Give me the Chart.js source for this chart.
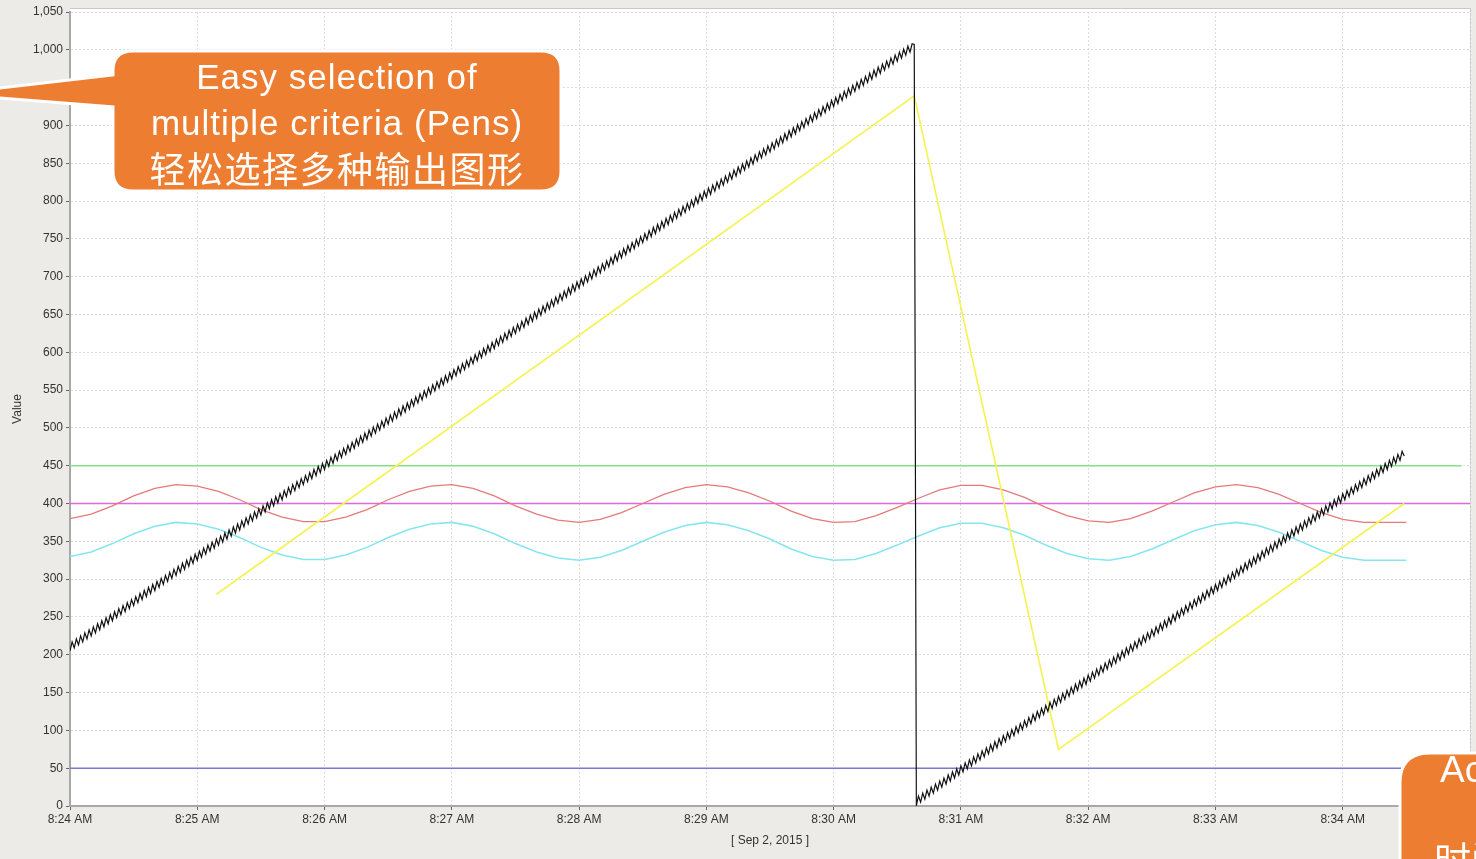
<!DOCTYPE html>
<html>
<head>
<meta charset="utf-8">
<script src="https://cdn.jsdelivr.net/npm/chart.js@4"></script>
<style>
  html, body { margin: 0; padding: 0; background: #ecebe7; overflow: hidden; }
  #wrap { position: relative; width: 1476px; height: 859px; overflow: hidden; }
  canvas { position: absolute; left: 0; top: 0; }
  svg { position: absolute; left: 0; top: 0; pointer-events: none; }
  .note { position: absolute; color: #fff; white-space: nowrap; font-family: 'Liberation Sans', Arial, sans-serif; }
  .cjk { font-family: 'Noto Sans CJK SC', sans-serif; }
</style>
</head>
<body>
<div id="wrap">
  <canvas id="trendChart" width="1476" height="859"></canvas>
  <svg width="1476" height="859">
    <path d="M133,51 H541 Q561,51 561,71 V171 Q561,191 541,191 H133 Q113,191 113,171 V107 L-51,94 L113,75 V71 Q113,51 133,51 Z"
          fill="#ed7d31" stroke="#fff" stroke-width="3"/>
    <path d="M1430,753 H1500 V900 H1400 V783 Q1400,753 1430,753 Z"
          fill="#ed7d31" stroke="#fff" stroke-width="3"/>
  </svg>
  <div class="note" style="left:113px;width:448px;text-align:center;top:59px;font-size:35px;line-height:35px;letter-spacing:1px;">Easy selection of</div>
  <div class="note" style="left:113px;width:448px;text-align:center;top:105px;font-size:35px;line-height:35px;letter-spacing:1px;">multiple criteria (Pens)</div>
  <div class="note cjk" style="left:113px;width:448px;text-align:center;top:149px;font-size:36px;line-height:36px;letter-spacing:1.5px;">轻松选择多种输出图形</div>
  <div class="note" style="left:1440px;top:751px;font-size:37px;line-height:37px;">Ac</div>
  <div class="note cjk" style="left:1434px;top:840px;font-size:37px;line-height:37px;">时间</div>
</div>
<script>
// time axis in seconds after 8:24:00 AM
const tickLabels = ['8:24 AM', '8:25 AM', '8:26 AM', '8:27 AM', '8:28 AM', '8:29 AM',
                    '8:30 AM', '8:31 AM', '8:32 AM', '8:33 AM', '8:34 AM'];

// black ramp pen, one sample per second from 8:24:00
const rampStart = 0;
const rampStep = 1;
const rampValues = [
  205,217,209,221,213,225,217,229,221,233,225,237,229,241,233,245,237,249,241,253,
  245,257,249,261,253,265,257,269,261,273,265,277,269,281,273,285,277,289,281,293,
  285,297,289,301,293,305,297,309,301,313,305,317,309,321,313,325,317,329,321,333,
  325,337,329,341,333,345,337,349,341,353,345,357,349,361,353,365,357,369,361,373,
  365,377,369,381,373,385,377,389,381,393,385,397,389,401,393,405,397,409,401,413,
  405,417,409,421,413,425,417,429,421,433,425,437,429,441,433,445,437,449,441,453,
  445,457,449,461,453,465,457,469,461,473,465,477,469,481,473,485,477,489,481,493,
  485,497,489,501,493,505,497,509,501,513,505,517,509,521,513,525,517,529,521,533,
  525,537,529,541,533,545,537,549,541,553,545,557,549,561,553,565,557,569,561,573,
  565,577,569,581,573,585,577,589,581,593,585,597,589,601,593,605,597,609,601,613,
  605,617,609,621,613,625,617,629,621,633,625,637,629,641,633,645,637,649,641,653,
  645,657,649,661,653,665,657,669,661,673,665,677,669,681,673,685,677,689,681,693,
  685,697,689,701,693,705,697,709,701,713,705,717,709,721,713,725,717,729,721,733,
  725,737,729,741,733,745,737,749,741,753,745,757,749,761,753,765,757,769,761,773,
  765,777,769,781,773,785,777,789,781,793,785,797,789,801,793,805,797,809,801,813,
  805,817,809,821,813,825,817,829,821,833,825,837,829,841,833,845,837,849,841,853,
  845,857,849,861,853,865,857,869,861,873,865,877,869,881,873,885,877,889,881,893,
  885,897,889,901,893,905,897,909,901,913,905,917,909,921,913,925,917,929,921,933,
  925,937,929,941,933,945,937,949,941,953,945,957,949,961,953,965,957,969,961,973,
  965,977,969,981,973,985,977,989,981,993,985,997,989,1001,993,1005,997,1008,1007,
  1,13,5,17,9,21,13,25,17,29,21,33,25,37,29,41,33,45,37,49,
  41,53,45,57,49,61,53,65,57,69,61,73,65,77,69,81,73,85,77,89,
  81,93,85,97,89,101,93,105,97,109,101,113,105,117,109,121,113,125,117,129,
  121,133,125,137,129,141,133,145,137,149,141,153,145,157,149,161,153,165,157,169,
  161,173,165,177,169,181,173,185,177,189,181,193,185,197,189,201,193,205,197,209,
  201,213,205,217,209,221,213,225,217,229,221,233,225,237,229,241,233,245,237,249,
  241,253,245,257,249,261,253,265,257,269,261,273,265,277,269,281,273,285,277,289,
  281,293,285,297,289,301,293,305,297,309,301,313,305,317,309,321,313,325,317,329,
  321,333,325,337,329,341,333,345,337,349,341,353,345,357,349,361,353,365,357,369,
  361,373,365,377,369,381,373,385,377,389,381,393,385,397,389,401,393,405,397,409,
  401,413,405,417,409,421,413,425,417,429,421,433,425,437,429,441,433,445,437,449,
  441,453,445,457,449,461,453,465,457,469,463
];

// yellow pen, its turning points
const yellowTimes = [69, 398, 466, 629];
const yellowValues = [280, 939, 75, 400];

// red and cyan wave pens, one sample every 10 s
const waveStart = 0;
const waveStep = 10;
const redValues = [
  380,386,397,410,420,425,423,416,405,392, 382,376,376,382,392,405,416,423,425,420,
  410,397,386,378,375,379,388,400,412,421, 425,422,414,403,390,380,375,376,384,395,
  407,418,424,424,418,408,395,384,377,375, 380,390,402,414,422,425,421,412,400,388,
  379,375,375,375
];
const cyanValues = [
  330,336,347,360,370,375,373,366,355,342, 332,326,326,332,342,355,366,373,375,370,
  360,347,336,328,325,329,338,350,362,371, 375,372,364,353,340,330,325,326,334,345,
  357,368,374,374,368,358,345,334,327,325, 330,340,352,364,372,375,371,362,350,338,
  329,325,325,325
];

// flat limit pens: [start, end] times and level
const greenTimes = [0, 656];
const greenLevel = 450;
const magentaTimes = [0, 660];
const magentaLevel = 400;
const blueTimes = [0, 660];
const blueLevel = 50;

function series(start, step, values) {
    return values.map((v, i) => ({ x: start + i * step, y: v }));
}
function pairs(times, values) {
    return times.map((t, i) => ({ x: t, y: values[i] }));
}
function flat(times, level) {
    return times.map(t => ({ x: t, y: level }));
}

function pen(label, data, color, width) {
    return {
        label: label,
        data: data,
        borderColor: color,
        borderWidth: width,
        pointRadius: 0,
        tension: 0,
        fill: false
    };
}

// white plot area with a thin frame, like the trend viewer
const plotFrame = {
    id: 'plotFrame',
    beforeDraw(chart) {
        const { ctx, chartArea: a } = chart;
        ctx.save();
        ctx.fillStyle = '#ffffff';
        ctx.fillRect(a.left, a.top - 3, a.right - a.left, a.bottom - a.top + 3);
        ctx.strokeStyle = '#c8c8c8';
        ctx.lineWidth = 1;
        ctx.beginPath();
        ctx.moveTo(a.left, a.top - 3.5);
        ctx.lineTo(a.right + 0.5, a.top - 3.5);
        ctx.lineTo(a.right + 0.5, a.bottom);
        ctx.stroke();
        ctx.restore();
    }
};

const axisFont = { family: "'Liberation Sans', Arial, sans-serif", size: 12 };

const ctx = document.getElementById('trendChart').getContext('2d');
new Chart(ctx, {
    type: 'line',
    data: {
        datasets: [
            pen('Ramp', series(rampStart, rampStep, rampValues), '#111111', 1.2),
            pen('Ramp lag', pairs(yellowTimes, yellowValues), '#f5f350', 1.6),
            pen('Sine', series(waveStart, waveStep, redValues), '#e57a7a', 1.3),
            pen('Sine 2', series(waveStart, waveStep, cyanValues), '#86e6ef', 1.6),
            pen('High', flat(greenTimes, greenLevel), '#86e086', 1.4),
            pen('Setpoint', flat(magentaTimes, magentaLevel), '#db6ae0', 1.4),
            pen('Low', flat(blueTimes, blueLevel), '#7a78d0', 1.4)
        ]
    },
    options: {
        responsive: false,
        animation: false,
        events: [],
        layout: { padding: { top: 12, right: 6, left: 0, bottom: 0 } },
        plugins: {
            legend: { display: false },
            tooltip: { enabled: false }
        },
        scales: {
            x: {
                type: 'linear',
                min: 0,
                max: 660,
                afterFit: function (scale) { scale.height = 53; },
                ticks: {
                    stepSize: 60,
                    autoSkip: false,
                    maxRotation: 0,
                    padding: 2,
                    color: '#333333',
                    font: axisFont,
                    callback: function (value) {
                        return tickLabels[Math.round(value / 60)] || '';
                    }
                },
                grid: { color: '#dcdcdc', tickColor: '#666666', tickLength: 4 },
                border: { color: '#a8a8a8', width: 2, dash: [2, 2] },
                title: {
                    display: true,
                    text: '[ Sep 2, 2015 ]',
                    color: '#333333',
                    font: axisFont,
                    padding: { top: 0, bottom: 11 }
                }
            },
            y: {
                min: 0,
                max: 1050,
                afterFit: function (scale) { scale.width = 70; },
                ticks: {
                    stepSize: 50,
                    padding: 3,
                    color: '#333333',
                    font: { family: "'Liberation Sans', Arial, sans-serif", size: 12 }
                },
                grid: { color: '#dcdcdc', tickColor: '#666666', tickLength: 4 },
                border: { color: '#a8a8a8', width: 2, dash: [2, 2] },
                title: {
                    display: true,
                    text: 'Value',
                    color: '#333333',
                    font: axisFont,
                    padding: { top: 10, bottom: 0 }
                }
            }
        }
    },
    plugins: [plotFrame]
});
</script>
</body>
</html>
